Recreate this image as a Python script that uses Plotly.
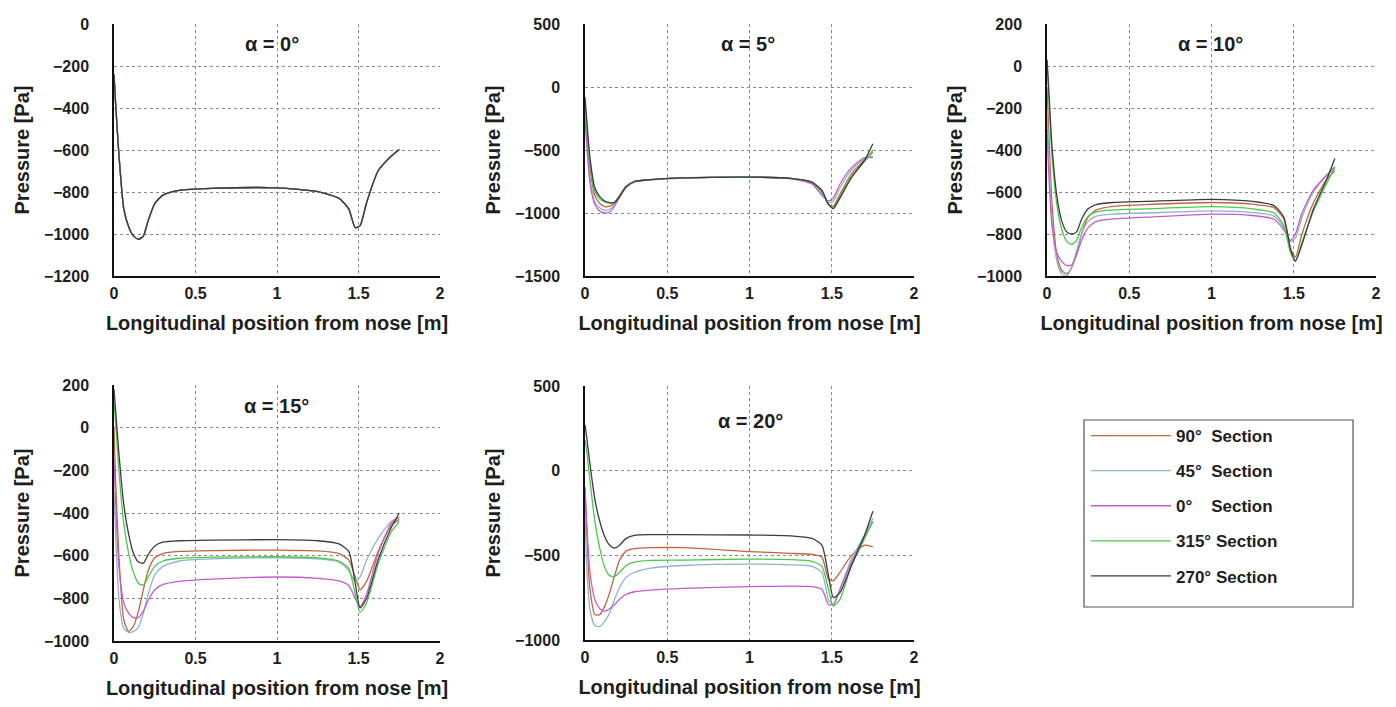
import plotly.graph_objects as go

# ---------------- data ----------------
X_POS = [0, 0.01, 0.03, 0.06, 0.09, 0.12, 0.15, 0.18, 0.21, 0.25, 0.30, 0.40, 0.60,
         1.00, 1.25, 1.38, 1.44, 1.48, 1.51, 1.55, 1.62, 1.70, 1.75]

SECTIONS = ["90°\u00a0\u00a0Section", "45°\u00a0\u00a0Section", "0°\u00a0\u00a0\u00a0\u00a0Section",
            "315° Section", "270° Section"]
ALPHA_LABELS = ["α = 0°", "α = 5°", "α = 10°", "α = 15°", "α = 20°"]

# alpha = 0 deg (all sections coincide)
A0_ALL = [-240, -380, -620, -880, -965, -1010, -1025, -1010, -935, -855, -815, -792, -783,
          -780, -798, -830, -880, -970, -960, -850, -700, -630, -598]

# alpha = 5 deg
A5_90 = [-150, -330, -640, -860, -925, -950, -945, -920, -860, -790, -750, -735, -722,
         -715, -725, -760, -830, -935, -945, -850, -690, -580, -520]
A5_45 = [-200, -400, -720, -910, -960, -978, -970, -935, -870, -795, -752, -736, -722,
         -715, -727, -765, -845, -920, -905, -800, -660, -570, -550]
A5_0 = [-250, -450, -760, -935, -985, -1000, -990, -945, -875, -798, -755, -737, -723,
        -716, -728, -770, -860, -905, -880, -770, -640, -560, -560]
A5_315 = [-120, -300, -600, -830, -890, -912, -922, -918, -870, -790, -750, -735, -722,
          -715, -725, -755, -820, -930, -960, -870, -710, -590, -500]
A5_270 = [-80, -250, -560, -800, -870, -905, -918, -915, -870, -790, -750, -735, -722,
          -715, -725, -755, -820, -930, -965, -880, -720, -580, -450]

# alpha = 10 deg
A10_90 = [-100, -300, -650, -900, -975, -990, -960, -890, -800, -720, -685, -668, -660,
          -650, -658, -675, -730, -870, -910, -800, -650, -540, -500]
A10_45 = [-200, -400, -730, -930, -990, -1000, -960, -880, -800, -740, -715, -705, -700,
          -690, -698, -715, -770, -835, -820, -720, -600, -520, -490]
A10_0 = [-300, -500, -760, -890, -930, -950, -948, -900, -830, -770, -740, -728, -720,
         -705, -712, -730, -780, -830, -800, -700, -590, -520, -480]
A10_315 = [30, -130, -420, -660, -780, -835, -850, -830, -770, -715, -695, -685, -680,
           -670, -680, -700, -760, -890, -925, -840, -690, -560, -480]
A10_270 = [30, -100, -380, -620, -740, -790, -800, -790, -730, -680, -660, -650, -645,
           -635, -645, -665, -720, -870, -930, -850, -680, -540, -440]

# alpha = 15 deg
A15_90 = [0, -250, -600, -900, -955, -930, -860, -760, -670, -610, -590, -580, -576,
          -574, -578, -590, -620, -700, -760, -720, -580, -460, -430]
A15_45 = [-300, -500, -800, -940, -960, -955, -935, -870, -780, -690, -650, -625, -615,
          -610, -615, -630, -670, -720, -700, -620, -520, -440, -420]
A15_0 = [-150, -350, -650, -820, -870, -890, -890, -860, -810, -760, -735, -720, -710,
         -700, -706, -718, -740, -800, -840, -780, -590, -450, -420]
A15_315 = [120, 20, -200, -450, -590, -680, -730, -738, -700, -650, -625, -612, -607,
           -605, -610, -625, -660, -780, -865, -820, -640, -490, -440]
A15_270 = [180, 80, -120, -360, -500, -590, -630, -635, -595, -555, -537, -530, -527,
           -525, -530, -545, -580, -730, -845, -800, -620, -470, -400]

# alpha = 20 deg
A20_90 = [-100, -350, -700, -850, -850, -800, -720, -620, -530, -475, -460, -455, -455,
          -478, -488, -495, -510, -640, -650, -600, -500, -440, -450]
A20_45 = [-250, -550, -820, -915, -920, -890, -840, -760, -690, -630, -600, -575, -560,
          -552, -556, -565, -600, -760, -795, -700, -520, -380, -280]
A20_0 = [-100, -300, -600, -760, -815, -830, -815, -790, -760, -730, -715, -705, -695,
         -685, -682, -685, -700, -790, -790, -700, -540, -390, -300]
A20_315 = [180, 120, -60, -300, -460, -570, -620, -625, -600, -560, -540, -530, -528,
           -522, -525, -535, -565, -700, -800, -760, -560, -400, -300]
A20_270 = [270, 200, 40, -170, -300, -390, -440, -457, -440, -400, -382, -378, -378,
           -380, -385, -400, -440, -620, -750, -720, -560, -380, -240]

X_TICKS = [0, 0.5, 1, 1.5, 2]
X_TICK_TEXT = ["0", "0.5", "1", "1.5", "2"]
Y_RANGES = [[-1200, 0], [-1500, 500], [-1000, 200], [-1000, 200], [-1000, 500]]
Y_DTICKS = [200, 500, 200, 200, 500]

PANELS = [
    [A0_ALL, A0_ALL, A0_ALL, A0_ALL, A0_ALL],
    [A5_90, A5_45, A5_0, A5_315, A5_270],
    [A10_90, A10_45, A10_0, A10_315, A10_270],
    [A15_90, A15_45, A15_0, A15_315, A15_270],
    [A20_90, A20_45, A20_0, A20_315, A20_270],
]

# ---------------- styling ----------------
W, H = 1396, 707
COLORS = ["#c0643f", "#8fb3c6", "#c45ccc", "#4cc84c", "#3c3c3c"]
FONT = "Liberation Sans, Arial, sans-serif"
TXT = "#1e1e1e"
HIDDEN = "rgba(0,0,0,0)"

# plot areas in pixels: (left, right, top, bottom)
BOXES = [(106, 432, 16, 268), (577, 906, 16, 268), (1039, 1368, 16, 268),
         (106, 432, 377, 633), (577, 906, 378, 632)]
ALPHA_POS = [(264, 36), (740, 36), (1202, 36), (268, 398), (742, 413)]

fig = go.Figure()

for p, series in enumerate(PANELS):
    ax = "" if p == 0 else str(p + 1)
    for s, yvals in enumerate(series):
        fig.add_trace(go.Scatter(
            x=X_POS, y=yvals, mode="lines", name=SECTIONS[s],
            line=dict(color=COLORS[s], width=1.3, shape="spline", smoothing=0.6),
            xaxis="x" + ax, yaxis="y" + ax,
            showlegend=(p == 0), legendgroup=SECTIONS[s],
        ))

layout = dict(
    width=W, height=H, margin=dict(l=0, r=0, t=0, b=0),
    paper_bgcolor="white", plot_bgcolor="white",
    font=dict(family=FONT, color=TXT, size=16),
    showlegend=True,
    legend=dict(x=1078 / W, y=1 - 410 / H, xanchor="left", yanchor="top",
                font=dict(size=17, family=FONT, weight="bold", color=TXT),
                bgcolor="rgba(0,0,0,0)", borderwidth=0, tracegroupgap=10,
                itemwidth=80),
)

annotations = []
shapes = []
for p, (l, r, t, b) in enumerate(BOXES):
    ax = "" if p == 0 else str(p + 1)
    xa = dict(
        domain=[l / W, r / W], anchor="y" + ax, range=[0, 2],
        tickvals=X_TICKS, ticktext=X_TICK_TEXT,
        ticks="outside", ticklen=2, tickcolor=HIDDEN,
        tickfont=dict(size=16, family=FONT, weight="bold", color=TXT),
        showgrid=True, gridcolor="#8a8a8a", griddash="dot", gridwidth=1,
        showline=True, linecolor="#111", linewidth=1.5, zeroline=False,
        title=dict(text="Longitudinal position from nose [m]", standoff=15,
                   font=dict(size=20, family=FONT, weight="bold", color=TXT)),
        automargin=False, fixedrange=True,
    )
    ya = dict(
        domain=[1 - b / H, 1 - t / H], anchor="x" + ax, range=Y_RANGES[p],
        dtick=Y_DTICKS[p], tick0=0,
        ticks="outside", ticklen=20, tickcolor=HIDDEN,
        tickfont=dict(size=16, family=FONT, weight="bold", color=TXT),
        showgrid=True, gridcolor="#8a8a8a", griddash="dot", gridwidth=1,
        showline=True, linecolor="#111", linewidth=1.5, zeroline=False,
        title=dict(text="Pressure [Pa]", standoff=9,
                   font=dict(size=20, family=FONT, weight="bold", color=TXT)),
        automargin=False, fixedrange=True,
    )
    layout["xaxis" + ax] = xa
    layout["yaxis" + ax] = ya
    ax_px, ay_px = ALPHA_POS[p]
    annotations.append(dict(
        x=ax_px / W, y=1 - ay_px / H, xref="paper", yref="paper",
        text=ALPHA_LABELS[p], showarrow=False, xanchor="center", yanchor="middle",
        font=dict(size=20, family=FONT, weight="bold", color=TXT),
    ))

# legend frame
shapes.append(dict(type="rect", xref="paper", yref="paper",
                   x0=1076 / W, x1=1345 / W, y0=1 - 599 / H, y1=1 - 412 / H,
                   line=dict(color="#555", width=1.2), fillcolor="rgba(0,0,0,0)"))

layout["annotations"] = annotations
layout["shapes"] = shapes
fig.update_layout(**layout)

fig.write_html("out.html")
